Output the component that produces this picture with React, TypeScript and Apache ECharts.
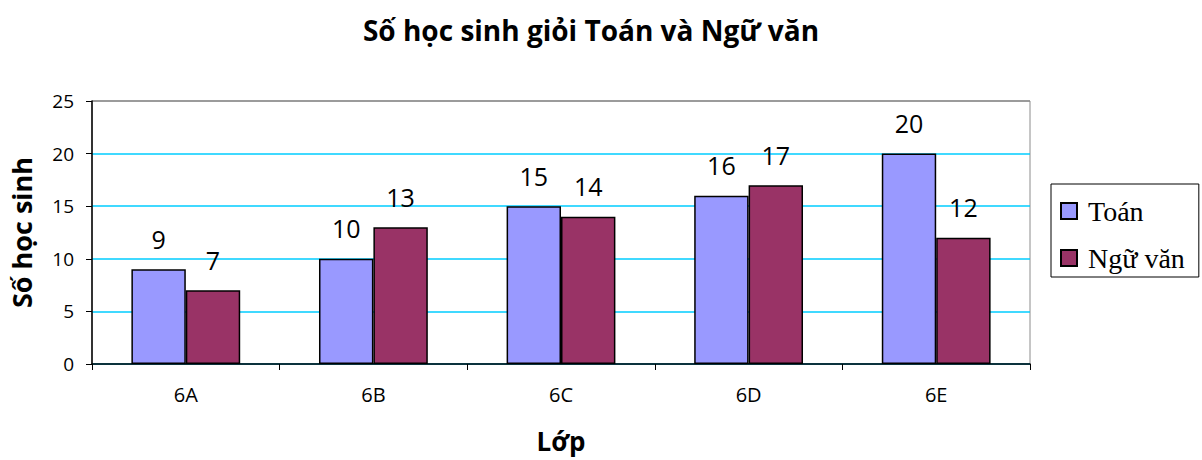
import React, { useEffect, useRef } from "react";
import * as echarts from "echarts";

const categories = ["6A", "6B", "6C", "6D", "6E"];
const toanValues = [9, 10, 15, 16, 20];
const nguVanValues = [7, 13, 14, 17, 12];
const seriesNames = ["Toán", "Ngữ văn"];

const SANS = "'Open Sans', 'Noto Sans', sans-serif";

export default function App() {
  const ref = useRef<HTMLDivElement>(null);
  useEffect(() => {
    document.body.style.margin = "0";
    const chart = echarts.init(ref.current!, null, { renderer: "svg" });
    const labelStyle = {
      show: true,
      position: "top" as const,
      distance: 18,
      fontSize: 25,
      color: "#000",
      fontFamily: SANS,
    };
    chart.setOption({
      animation: false,
      backgroundColor: "#fff",
      title: {
        text: "Số học sinh giỏi Toán và Ngữ văn",
        left: 586,
        textAlign: "center",
        top: 11,
        textStyle: { fontSize: 28, fontWeight: "bold", color: "#000", fontFamily: SANS },
      },
      legend: {
        orient: "vertical",
        left: 1051,
        top: 184,
        padding: [13, 14, 5, 9],
        itemGap: 19,
        itemWidth: 16,
        itemHeight: 16,
        icon: "rect",
        borderColor: "#000",
        borderWidth: 1,
        textStyle: {
          fontSize: 28,
          color: "#000",
          fontFamily: "'Liberation Serif', 'DejaVu Serif', serif",
          padding: [0, 0, 0, 6],
        },
        data: seriesNames,
      },
      grid: {
        left: 92,
        right: 172,
        top: 101,
        bottom: 96,
        outerBoundsMode: "none",
        containLabel: false,
        show: true,
        borderColor: "#8c8c8c",
        borderWidth: 1,
        backgroundColor: "transparent",
      },
      xAxis: {
        type: "category",
        data: categories,
        name: "Lớp",
        nameLocation: "middle",
        nameGap: 64,
        nameTextStyle: { fontSize: 26, fontWeight: "bold", color: "#000", fontFamily: SANS },
        axisLine: { lineStyle: { color: "#000", width: 1.5 } },
        axisTick: { show: true, length: 6, lineStyle: { color: "#000" } },
        axisLabel: { margin: 20, fontSize: 20, color: "#000", fontFamily: SANS },
      },
      yAxis: {
        type: "value",
        min: 0,
        max: 25,
        interval: 5,
        name: "Số học sinh",
        nameLocation: "middle",
        nameGap: 57,
        nameTextStyle: { fontSize: 27, fontWeight: "bold", color: "#000", fontFamily: SANS },
        axisLine: { show: true, lineStyle: { color: "#000", width: 1.5 } },
        axisTick: { show: true, length: 6, lineStyle: { color: "#000" } },
        axisLabel: { margin: 18, fontSize: 19, color: "#000", fontFamily: SANS },
        splitLine: {
          show: true,
          lineStyle: {
            color: ["#00CCFF", "#00CCFF", "#00CCFF", "#00CCFF", "#00CCFF", "#8c8c8c"],
            width: 1.5,
          },
        },
      },
      series: [
        {
          name: seriesNames[0],
          type: "bar",
          data: toanValues,
          barGap: "0%",
          barCategoryGap: "42%",
          itemStyle: { color: "#9999FF", borderColor: "#000", borderWidth: 1.5 },
          label: labelStyle,
        },
        {
          name: seriesNames[1],
          type: "bar",
          data: nguVanValues,
          itemStyle: { color: "#993366", borderColor: "#000", borderWidth: 1.5 },
          label: labelStyle,
        },
      ],
    });
    return () => chart.dispose();
  }, []);
  return <div ref={ref} style={{ width: 1202, height: 460 }} />;
}
